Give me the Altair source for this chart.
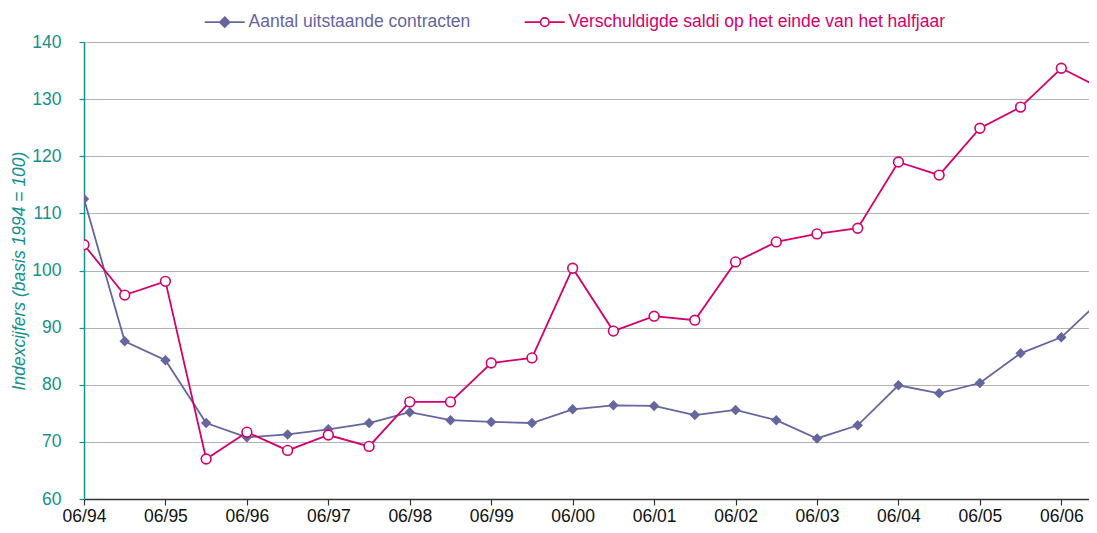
import altair as alt
import pandas as pd

periods = ["06/94", "12/94", "06/95", "12/95", "06/96", "12/96", "06/97", "12/97",
           "06/98", "12/98", "06/99", "12/99", "06/00", "12/00", "06/01", "12/01",
           "06/02", "12/02", "06/03", "12/03", "06/04", "12/04", "06/05", "12/05",
           "06/06", "12/06"]
aantal = [112.5, 87.6, 84.3, 73.3, 70.8, 71.3, 72.2, 73.3, 75.2, 73.8, 73.5, 73.3,
          75.7, 76.4, 76.3, 74.7, 75.6, 73.8, 70.6, 72.9, 79.9, 78.5, 80.3, 85.5,
          88.3, 95.0]
saldi = [104.5, 95.7, 98.1, 67.0, 71.7, 68.5, 71.2, 69.2, 77.0, 77.0, 83.8, 84.7,
         100.4, 89.4, 92.0, 91.3, 101.5, 105.0, 106.4, 107.4, 119.0, 116.7, 124.9,
         128.6, 135.4, 131.8]
series_names = ["Aantal uitstaande contracten",
                "Verschuldigde saldi op het einde van het halfjaar"]
tick_labels = ["06/94", "06/95", "06/96", "06/97", "06/98", "06/99", "06/00",
               "06/01", "06/02", "06/03", "06/04", "06/05", "06/06"]

PURPLE = "#65659f"
MAGENTA = "#d4006c"
TEAL = "#14918d"
FONT = "Liberation Sans"
FS = 17.5

rows = []
for i, p in enumerate(periods):
    rows.append({"t": i, "periode": p, "reeks": series_names[0], "waarde": aantal[i]})
    rows.append({"t": i, "periode": p, "reeks": series_names[1], "waarde": saldi[i]})
df = pd.DataFrame(rows)

stroke_scale = alt.Scale(domain=series_names, range=[PURPLE, MAGENTA])
fill_scale = alt.Scale(domain=series_names, range=[PURPLE, "white"])
shape_scale = alt.Scale(
    domain=series_names,
    range=[
        "M-4,0L4,0M0,-1L1,0L0,1L-1,0Z",
        "M-4,0L-0.85,0M0.85,0L4,0M-0.85,0A0.85,0.85,0,1,1,0.85,0A0.85,0.85,0,1,1,-0.85,0Z",
    ],
)

label_expr = "[" + ",".join("'" + s + "'" for s in tick_labels) + "][round(datum.value / 2)]"

x_enc = alt.X(
    "t:Q",
    scale=alt.Scale(domain=[0, 24.68], nice=False, zero=False),
    axis=alt.Axis(
        values=list(range(0, 25, 2)), labelExpr=label_expr, title=None, grid=False,
        domainColor="#333333", domainWidth=1.5, tickColor="#333333", tickWidth=1.2,
        tickSize=6, labelPadding=2, labelFontSize=FS, labelColor="#111111",
        labelFont=FONT, labelFlush=False, labelOverlap=False,
    ),
)
y_enc = alt.Y(
    "waarde:Q",
    scale=alt.Scale(domain=[60, 140], nice=False, zero=False),
    axis=alt.Axis(
        values=list(range(60, 141, 10)), title="Indexcijfers (basis 1994 = 100)",
        titleFontStyle="italic", titleFontWeight="normal", titleFontSize=FS,
        titleColor=TEAL, titleFont=FONT, titlePadding=3,
        grid=True, gridColor="#b3b3b3", gridWidth=1,
        domainColor=TEAL, domainWidth=1.5, tickColor=TEAL, tickWidth=1.2, tickSize=5,
        labelPadding=18, labelFontSize=FS, labelColor=TEAL, labelFont=FONT,
    ),
)

base = alt.Chart(df).encode(x=x_enc, y=y_enc)
serie_a = base.transform_filter(alt.datum.reeks == series_names[0])
serie_b = base.transform_filter(alt.datum.reeks == series_names[1])

line_a = serie_a.mark_line(color=PURPLE, strokeWidth=1.8, clip=True).encode(order="t:Q")
line_b = serie_b.mark_line(color=MAGENTA, strokeWidth=1.8, clip=True).encode(order="t:Q")
diamonds = serie_a.mark_point(shape="diamond", filled=True, color=PURPLE, size=110,
                              opacity=1, clip=True)
circles = serie_b.mark_point(shape="circle", fill="white", stroke=MAGENTA, size=95,
                             strokeWidth=1.6, opacity=1, clip=True)

legend_cfg = alt.Legend(
    title=None, orient="none", legendX=132, legendY=-29, direction="horizontal",
    symbolSize=100, symbolStrokeWidth=1.6, labelOffset=15, columnPadding=50,
    labelFontSize=FS, labelFont=FONT, labelLimit=600, padding=0,
    labelColor={"expr": "datum.value == '" + series_names[0] + "' ? '" + PURPLE + "' : '" + MAGENTA + "'"},
)
legend_layer = base.transform_filter("false").mark_point(
    filled=True, opacity=1, strokeWidth=1.6
).encode(
    stroke=alt.Stroke("reeks:N", scale=stroke_scale, sort=series_names, legend=legend_cfg),
    fill=alt.Fill("reeks:N", scale=fill_scale, sort=series_names, legend=legend_cfg),
    shape=alt.Shape("reeks:N", scale=shape_scale, sort=series_names, legend=legend_cfg),
)

chart = alt.layer(line_a, line_b, diamonds, circles, legend_layer).properties(
    width=1005, height=457,
    autosize=alt.AutoSizeParams(type="none"),
    padding={"left": 76, "top": 34, "right": 0, "bottom": 26},
).configure_view(stroke=None).configure(font=FONT)

chart.save("out.html", embed_options={"renderer": "svg", "actions": False})
